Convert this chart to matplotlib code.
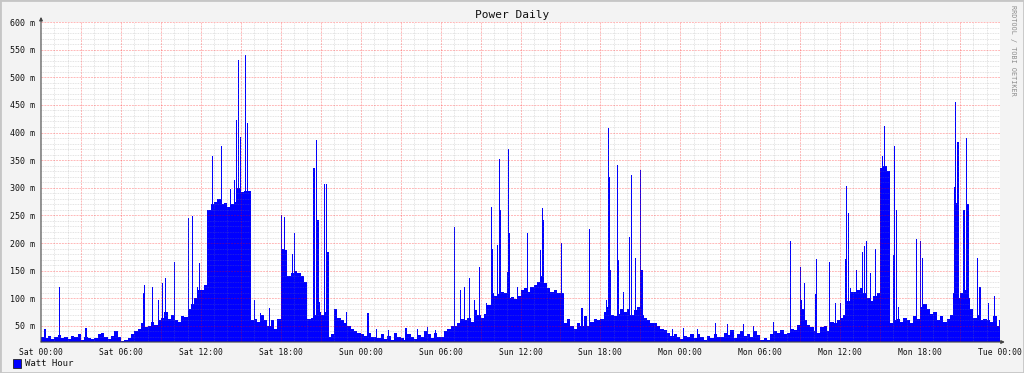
import numpy as np
import matplotlib
matplotlib.use("Agg")
import matplotlib.pyplot as plt
from matplotlib.patches import Rectangle

# 15-minute averages (Watt hour, milli units), one row per hour, Sat 00:00 -> Tue 00:00
base = [
    30, 28, 32, 27,   30, 33, 28, 30,   26, 32, 30, 36,   25, 30, 28, 26,
    28, 35, 38, 30,   26, 32, 40, 30,   22, 24, 28, 36,   40, 45, 55, 48,
    50, 58, 52, 60,   65, 75, 62, 70,   60, 58, 68, 66,   80, 90, 100, 115,
    115, 125, 260, 270,  275, 280, 270, 272,  265, 270, 275, 300,  292, 295, 294, 60,
    62, 58, 70, 60,   50, 60, 45, 62,   190, 188, 140, 145,  150, 145, 140, 130,
    62, 65, 70, 75,   70, 75, 30, 35,   80, 65, 60, 55,   50, 45, 40, 38,
    35, 32, 38, 30,   30, 28, 35, 26,   32, 25, 38, 30,   28, 24, 35, 30,
    26, 34, 30, 40,   35, 28, 38, 30,   30, 40, 45, 50,   50, 55, 62, 60,
    65, 58, 78, 70,   65, 72, 88, 110,  105, 108, 112, 110,  100, 102, 98, 105,
    115, 118, 112, 120,  125, 130, 140, 128,  118, 112, 115, 110,  110, 55, 62, 50,
    45, 55, 50, 68,   50, 58, 62, 60,   62, 75, 85, 70,   68, 72, 80, 75,
    80, 70, 78, 85,   70, 65, 60, 55,   55, 50, 45, 42,   38, 32, 35, 30,
    26, 32, 30, 36,   28, 35, 30, 25,   32, 28, 36, 30,   30, 38, 34, 42,
    28, 35, 40, 32,   36, 30, 40, 34,   25, 28, 24, 35,   40, 38, 42, 36,
    38, 45, 42, 52,   80, 60, 52, 48,   40, 38, 48, 50,   40, 58, 55, 60,
    65, 70, 95, 112,  112, 115, 118, 110,  100, 95, 105, 110,  335, 340, 330, 55,
    60, 62, 58, 65,   60, 55, 68, 62,   85, 90, 80, 72,   75, 60, 68, 58,
    62, 70, 65, 100,  110, 115, 100, 80,  65, 70, 60, 62,   60, 58, 68, 50,
]

# short 5-minute peaks: hour since Sat 00:00, value
spike_hours = [
    0.3, 1.38, 1.42, 3.38, 7.7, 7.8, 8.38, 8.8, 9.12, 9.38, 10.0, 10.05, 11.05,
    11.4, 11.75, 11.88, 12.85, 13.55, 14.25, 14.55, 14.7, 14.8, 15.0, 15.38, 15.5,
    16.0, 16.5, 17.15, 18.08, 18.3, 18.88, 19.0, 20.5, 20.7, 20.8, 20.9, 21.3,
    21.45, 21.55, 22.95, 24.55, 25.2, 26.1, 27.4, 28.3, 29.05, 29.6,
    31.05, 31.5, 31.8, 32.18, 32.55, 32.95, 33.45,
    33.8, 33.88, 34.25, 34.4, 34.5, 35.0, 35.12, 35.2, 35.8, 36.5, 37.5, 37.62,
    37.7, 39.1, 40.62, 41.2, 42.45, 42.58, 42.65, 42.75, 43.25, 43.38, 43.7,
    44.2, 44.35, 44.62, 45.0, 45.12, 47.4, 48.25, 49.3, 50.62, 51.55, 52.75,
    53.5, 55.0, 56.3,
    57.0, 57.12, 57.3, 58.12, 58.25, 59.18, 59.68, 60.0, 60.4, 60.45, 60.6,
    60.75, 61.2, 61.68, 61.8, 62.0, 62.25, 62.65, 63.0, 63.18, 63.35, 63.45,
    64.0, 64.1, 64.25, 64.38, 65.75, 66.0, 66.15, 68.5, 68.6, 68.65, 68.75,
    68.85, 69.3, 69.5, 69.6, 70.3, 70.5, 71.12, 71.58, 71.95,
]
spike_values = [
    44, 92, 121, 46, 110, 125, 121, 97, 127, 136, 166, 95, 246,
    249, 120, 164, 357, 376, 297, 315, 423, 532, 392, 540, 417,
    97, 74, 82, 251, 248, 181, 218, 335, 386, 242, 94, 307,
    307, 184, 76, 73, 45, 42, 46, 44, 48, 43,
    229, 115, 121, 136, 97, 157, 91,
    265, 190, 196, 352, 260, 148, 370, 218, 121, 218, 188, 264,
    242, 200, 82, 225, 97, 408, 320, 151, 342, 170, 112,
    211, 323, 173, 332, 151, 44, 46, 45, 56, 54, 54,
    50, 58, 203,
    156, 97, 128, 108, 172, 166, 92, 92, 172, 303, 254,
    118, 151, 184, 194, 204, 145, 190, 184, 357, 411, 332,
    178, 376, 259, 85, 207, 203, 173, 110, 302, 456, 273,
    382, 259, 391, 271, 173, 121, 92, 104, 61,
]

x_labels = ["Sat 00:00", "Sat 06:00", "Sat 12:00", "Sat 18:00", "Sun 00:00",
            "Sun 06:00", "Sun 12:00", "Sun 18:00", "Mon 00:00", "Mon 06:00",
            "Mon 12:00", "Mon 18:00", "Tue 00:00"]
y_ticks = list(range(50, 601, 50))

ymin, ymax = 21, 600
blue = "#0000ff"
mono = "DejaVu Sans Mono"

fig = plt.figure(figsize=(10.24, 3.73), dpi=100, facecolor="#f3f3f3")
fig.patches.append(Rectangle((0, 0), 1, 1, transform=fig.transFigure,
                             fill=False, edgecolor="#c6c6c6", lw=2))
ax = fig.add_axes([41 / 1024, 31 / 373, 959 / 1024, 320 / 373])
ax.set_facecolor("white")

t = np.arange(len(base)) / 4
vals = np.array(base, dtype=float)
ax.bar(t, vals - ymin, bottom=ymin, width=0.25, align="edge",
       color=blue, linewidth=0, zorder=3)
sv = np.array(spike_values, dtype=float)
ax.bar(spike_hours, sv - ymin, bottom=ymin, width=1 / 12,
       color=blue, linewidth=0, zorder=3)

ax.set_xlim(0, 72)
ax.set_ylim(ymin, ymax)

ax.set_xticks(np.arange(0, 73, 6))
ax.set_xticklabels(x_labels, fontsize=5.8, family=mono, color="#111111")
ax.set_yticks(y_ticks)
ax.set_yticklabels([f"{v} m" for v in y_ticks], fontsize=6, family=mono,
                   color="#111111")
ax.tick_params(which="both", length=0)
ax.tick_params(axis="x", pad=4)
ax.tick_params(axis="y", pad=4.5)

# grid drawn over the area, like rrdtool: minor grey dotted, major light red
for h in range(1, 72):
    if h % 3:
        ax.axvline(h, color="#888888", alpha=0.3, lw=0.6, ls=(0, (1, 1)), zorder=4)
for v in range(30, 600, 10):
    if v % 50:
        ax.axhline(v, color="#888888", alpha=0.3, lw=0.6, ls=(0, (1, 1)), zorder=4)
for h in range(3, 73, 3):
    ax.axvline(h, color="#ff0000", alpha=0.28, lw=0.7, ls=(0, (2, 1)), zorder=4)
for v in y_ticks:
    ax.axhline(v, color="#ff0000", alpha=0.28, lw=0.7, ls=(0, (2, 1)), zorder=4)

for s in ax.spines.values():
    s.set_visible(False)
ax.annotate("", xy=(0, 1.016), xytext=(0, 0), xycoords="axes fraction",
            arrowprops=dict(arrowstyle="-|>", color="#444444", lw=0.8,
                            mutation_scale=5, shrinkA=0, shrinkB=0), zorder=5)
ax.annotate("", xy=(1.005, 0), xytext=(0, 0), xycoords="axes fraction",
            arrowprops=dict(arrowstyle="-|>", color="#444444", lw=0.8,
                            mutation_scale=5, shrinkA=0, shrinkB=0), zorder=5)

fig.text(512 / 1024, 1 - 15 / 373, "Power Daily", ha="center", va="center",
         fontsize=8, family=mono, color="#111111")
fig.text(1013 / 1024, 1 - 50 / 373, "RRDTOOL / TOBI OETIKER", ha="center",
         va="center", rotation=270, fontsize=4.9, family=mono, color="#8c8c8c")
fig.patches.append(Rectangle((13 / 1024, 1 - 368 / 373), 8 / 1024, 9 / 373,
                             transform=fig.transFigure, facecolor=blue,
                             edgecolor="#222222", lw=0.6))
fig.text(25 / 1024, 1 - 363 / 373, "Watt Hour", ha="left", va="center",
         fontsize=6.5, family=mono, color="#111111")

fig.savefig("out.png", dpi=100, facecolor=fig.get_facecolor())
